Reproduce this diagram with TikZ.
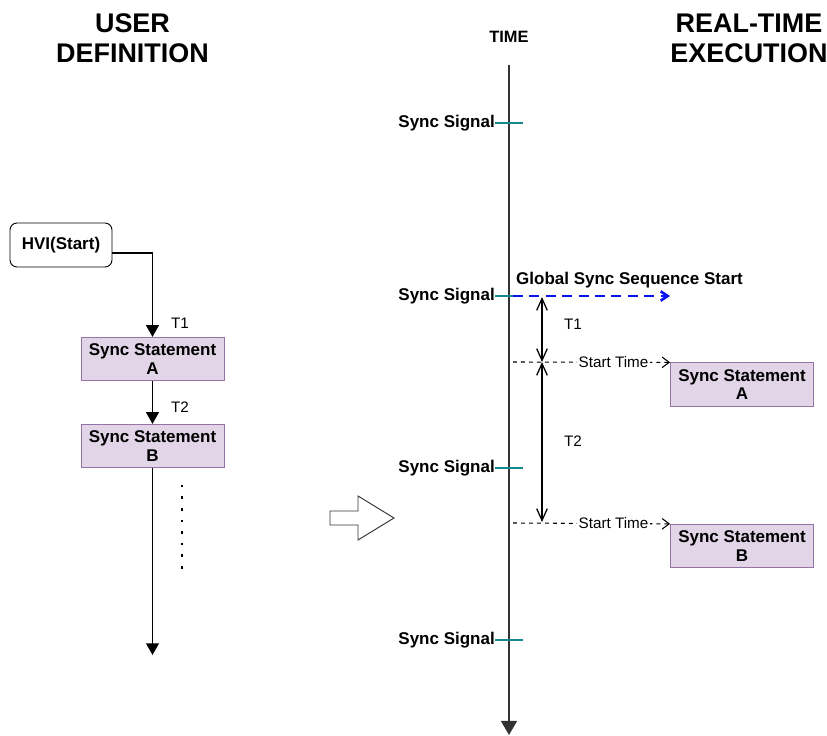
\documentclass[tikz,border=0pt]{standalone}
\usepackage{fontspec}
\setmainfont{Liberation Sans}
\usetikzlibrary{arrows.meta}

\definecolor{stmtfill}{HTML}{E1D5E7}
\definecolor{stmtline}{HTML}{9673A6}
\definecolor{signalteal}{HTML}{128A8F}
\definecolor{axisgray}{HTML}{333333}
\definecolor{globalblue}{HTML}{0A14F0}

\begin{document}
\begin{tikzpicture}[
  x=0.03cm, y=-0.03cm,
  heading/.style={font=\fontsize{23}{25.5}\selectfont\bfseries, align=center},
  boldtext/.style={font=\fontsize{14.5}{16}\selectfont\bfseries},
  stmtbox/.style={boldtext, draw=stmtline, line width=0.8pt, fill=stmtfill, minimum width=4.29cm,
                  minimum height=1.3cm, inner sep=1pt, align=center},
  startbox/.style={boldtext, draw, line width=0.8pt, rounded corners=6pt, minimum width=3.06cm, minimum height=1.32cm},
  siglabel/.style={boldtext, anchor=east, inner sep=0pt},
  steplabel/.style={font=\fontsize{13}{15}\selectfont},
  flowarrow/.style={-{Triangle[length=10pt,width=11pt]}, line width=1.3pt},
  sigtick/.style={signalteal, line width=1.1pt},
  intervalarrow/.style={{Straight Barb[length=10pt,width=9pt]}-{Straight Barb[length=10pt,width=9pt]}, line width=1.1pt},
  startline/.style={-{Straight Barb[length=6pt,width=9pt]}, dash pattern=on 3.4pt off 3.4pt, line width=0.9pt},
  globalarrow/.style={globalblue, -{Straight Barb[length=6pt,width=8pt]}, dash pattern=on 8.5pt off 5.5pt, line width=2.2pt},
]
\useasboundingbox (0,0) rectangle (827,736);

% Headings
\node[heading] (userdef) at (132.5,38) {USER\\DEFINITION};
\node[heading] (rtexec) at (749,38) {REAL-TIME\\EXECUTION};

% User definition flow
\node[startbox] (hvi) at (61,245) {HVI(Start)};
\node[stmtbox] (lA) at (152.5,359) {Sync Statement\\A};
\node[stmtbox] (lB) at (152.5,446) {Sync Statement\\B};
\coordinate (lend) at (152.5,655);

\draw[flowarrow] ([yshift=-0.24cm]hvi.east) -| (lA.north);
\draw[flowarrow] (lA) -- (lB);
\draw[flowarrow] (lB) -- (lend);
\node[steplabel] (lt1) at (180,323) {T1};
\node[steplabel] (lt2) at (180,407) {T2};

% continuation dots
\foreach \k in {0,...,7}
  \fill (180.8,{484.8+11.6*\k}) rectangle ++(2.6,2.6);

% Hollow arrow between the halves
\draw[axisgray, line width=0.8pt] (330,511) -- (358,511) -- (358,496) -- (394,518)
  -- (358,540) -- (358,525) -- (330,525) -- cycle;

% Time axis
\node[boldtext, font=\fontsize{14}{16}\selectfont\bfseries] (timelabel) at (509,37) {TIME};
\coordinate (ttop) at (509,65);
\coordinate (tbot) at (509,735);
\draw[axisgray, line width=1.8pt, -{Triangle[length=12pt,width=13.5pt]}] (ttop) -- (tbot);

% Sync signals
\foreach \yy [count=\i] in {123,296,468,640}{
  \node[siglabel] (sig\i) at (495,\yy) {Sync Signal};
  \coordinate (tick\i) at (523,\yy);
  \draw[sigtick] (sig\i.east) -- (tick\i);
}

% Global start
\node[boldtext] (global) at (629.5,280) {Global Sync Sequence Start};
\coordinate (gstart) at (513,296);
\coordinate (gend) at (670,296);
\draw[globalarrow] (gstart) -- (gend);

% Real-time statements
\node[stmtbox] (rA) at (742,384.5) {Sync Statement\\A};
\node[stmtbox] (rB) at (742,546) {Sync Statement\\B};

% Intervals
\coordinate (t1top) at (542,297);
\coordinate (tmid) at (542,362);
\coordinate (t2bot) at (542,522);
\draw[intervalarrow] (t1top) -- (tmid);
\draw[intervalarrow] (tmid) -- (t2bot);
\node[steplabel] (rt1) at (573,324) {T1};
\node[steplabel] (rt2) at (573,441) {T2};

% Start times
\coordinate (stA) at (513,362);
\coordinate (stB) at (513,523);
\draw[startline] (stA) -- node[pos=0.64, fill=white, inner sep=1pt, steplabel] (stAtext) {Start Time} (rA.north west);
\draw[startline] (stB) -- node[pos=0.64, fill=white, inner sep=1pt, steplabel] (stBtext) {Start Time} (rB.north west);

\end{tikzpicture}
\end{document}
